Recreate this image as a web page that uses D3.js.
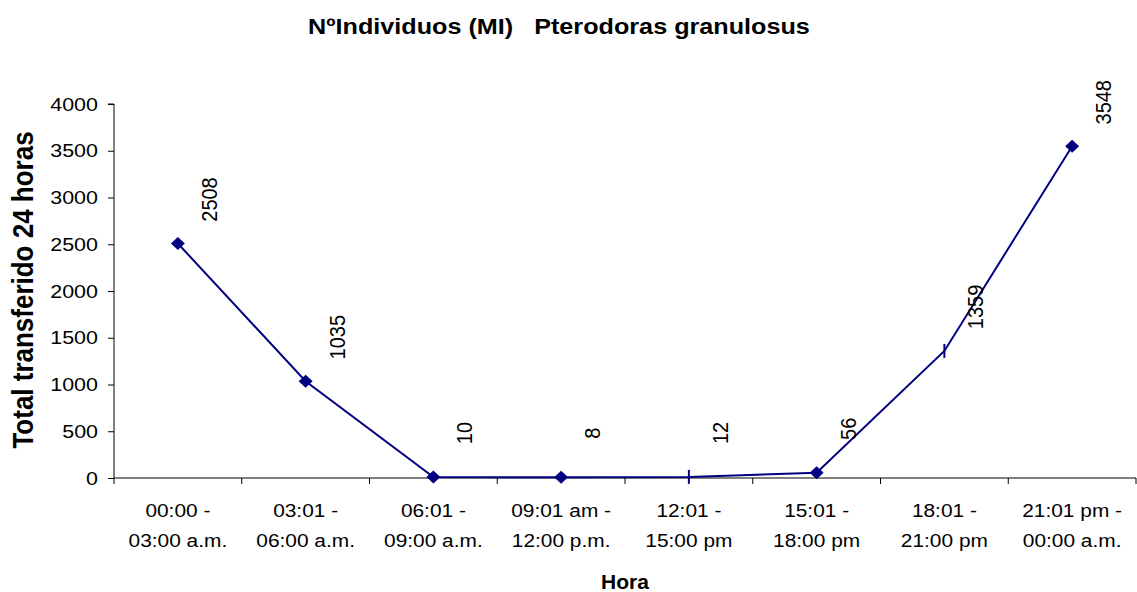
<!DOCTYPE html>
<html><head><meta charset="utf-8">
<script src="https://cdn.jsdelivr.net/npm/d3@7"></script>
<style>
html,body{margin:0;padding:0;background:#fff;}
svg{display:block;font-family:"Liberation Sans",Arial,sans-serif;}
</style></head>
<body><svg id="c" width="1137" height="592"></svg>
<script>
const categories = [
  ["00:00 -", "03:00 a.m."],
  ["03:01 -", "06:00 a.m."],
  ["06:01 -", "09:00 a.m."],
  ["09:01 am -", "12:00 p.m."],
  ["12:01 -", "15:00 pm"],
  ["15:01 -", "18:00 pm"],
  ["18:01 -", "21:00 pm"],
  ["21:01 pm -", "00:00 a.m."]
];
const values = [2508, 1035, 10, 8, 12, 56, 1359, 3548];
const markerTypes = ["diamond","diamond","diamond","diamond","bar","diamond","bar","diamond"];
const yTicks = [0, 500, 1000, 1500, 2000, 2500, 3000, 3500, 4000];
const titleText = "NºIndividuos (MI)   Pterodoras granulosus";
const yTitle = "Total transferido 24 horas";
const xTitle = "Hora";

const svg = d3.select("#c");
const W = 1137, H = 592;
const m = {left:114, right:1, top:104, bottom:114};
const color = "#000080";
const SX = 1.13; // horizontal stretch of the original picture's text

const x = d3.scaleBand().domain(d3.range(categories.length)).range([m.left, W - m.right]);
const y = d3.scaleLinear().domain([0, 4000]).range([H - m.bottom, m.top]);

// y axis
const ya = svg.append("g").attr("transform", `translate(${m.left},0)`)
  .call(d3.axisLeft(y).tickValues(yTicks).tickSize(6).tickPadding(10).tickFormat(d3.format("d")));
ya.select(".domain").attr("stroke", "#000").attr("d", `M-6,${y(4000)}H0V${y(0)}`);
ya.selectAll(".tick line").attr("stroke", "#000");
ya.selectAll(".tick text").attr("font-size", 19).attr("fill", "#000")
  .attr("font-family", "Liberation Sans, Arial, sans-serif")
  .attr("x", 0).attr("transform", `translate(-16,0) scale(${SX},1)`);

// x axis
const xa = svg.append("g").attr("transform", `translate(0,${y(0)})`);
xa.append("line").attr("x1", m.left).attr("x2", W - m.right).attr("y1", 0).attr("y2", 0).attr("stroke", "#000");
const edges = d3.range(categories.length + 1).map(i => i < categories.length ? x(i) : x(i - 1) + x.bandwidth());
xa.selectAll("line.tk").data(edges).join("line").attr("class", "tk")
  .attr("x1", d => d).attr("x2", d => d).attr("y1", 0).attr("y2", 6).attr("stroke", "#000");
const xl = xa.selectAll("text.cat").data(categories).join("text").attr("class", "cat")
  .attr("text-anchor", "middle").attr("font-size", 18.5).attr("fill", "#000")
  .attr("transform", (d, i) => `translate(${x(i) + x.bandwidth() / 2},0) scale(${SX},1)`);
xl.each(function(d) {
  const t = d3.select(this);
  t.append("tspan").attr("x", 0).attr("y", 39).text(d[0]);
  t.append("tspan").attr("x", 0).attr("y", 69).text(d[1]);
});

// line
const cx = i => x(i) + x.bandwidth() / 2;
svg.append("path").datum(values)
  .attr("d", d3.line().x((d, i) => cx(i)).y(d => y(d)))
  .attr("fill", "none").attr("stroke", color).attr("stroke-width", 2);

// markers
const mk = svg.append("g");
values.forEach((v, i) => {
  if (markerTypes[i] === "diamond") {
    mk.append("path").attr("d", "M0,-6.5L7,0L0,6.5L-7,0Z")
      .attr("transform", `translate(${cx(i)},${y(v)})`).attr("fill", color);
  } else {
    mk.append("line").attr("x1", cx(i)).attr("x2", cx(i)).attr("y1", y(v) - 7).attr("y2", y(v) + 7)
      .attr("stroke", color).attr("stroke-width", 2);
  }
});

// data labels
svg.append("g").selectAll("text").data(values).join("text")
  .attr("transform", (d, i) => `translate(${cx(i) + 31},${y(d) - 44}) scale(${SX},1) rotate(-90)`)
  .attr("text-anchor", "middle").attr("dy", "0.35em")
  .attr("font-size", 20).attr("fill", "#000").text(d => d);

// titles
svg.append("text").attr("transform", `translate(559,34) scale(1.12,1)`).attr("text-anchor", "middle")
  .attr("font-size", 22.5).attr("font-weight", "bold").attr("xml:space", "preserve")
  .style("white-space", "pre").text(titleText);
svg.append("text").attr("transform", `translate(33,290) scale(1.15,1) rotate(-90)`)
  .attr("text-anchor", "middle").attr("font-size", 26).attr("font-weight", "bold").text(yTitle);
svg.append("text").attr("transform", `translate(${(m.left + W - m.right) / 2},589) scale(1.05,1)`)
  .attr("text-anchor", "middle").attr("font-size", 20).attr("font-weight", "bold").text(xTitle);
</script></body></html>
